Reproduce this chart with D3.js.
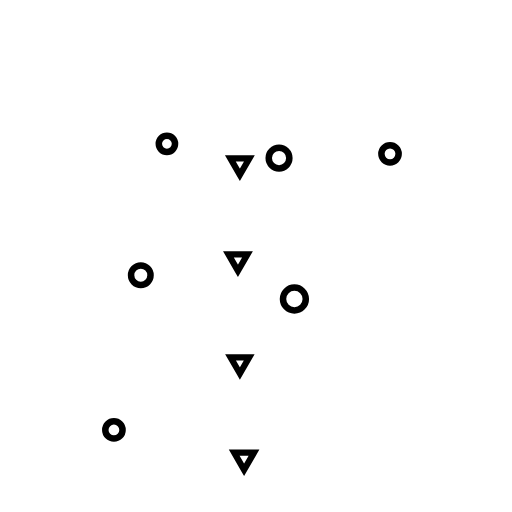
<!DOCTYPE html>
<html>
<head>
<meta charset="utf-8">
<script src="https://cdn.jsdelivr.net/npm/d3@7"></script>
<style>
html,body{margin:0;padding:0;background:#fff;}
svg{display:block;}
</style>
</head>
<body>
<script>
// Series A (circles)
const circleX = [2.68, 5.60, 8.49, 2.00, 6.00, 1.30];
const circleY = [7.92, 7.55, 7.66, 4.50, 3.88, 0.47];
const circleW = [39, 63, 44, 56, 77, 44];
// Series B (down triangles)
const triX = [4.58, 4.53, 4.58, 4.69];
const triY = [7.40, 4.90, 2.22, -0.27];
const triW = [50, 50, 48, 54];

const W = 512, H = 512;
const svg = d3.select("body").append("svg").attr("width", W).attr("height", H);

const x = d3.scaleLinear().domain([0, 10]).range([64, 448]);
const y = d3.scaleLinear().domain([0, 10]).range([448, 64]);
const rScale = d3.scaleSqrt().domain([0, 100]).range([0, 13]);
const tScale = d3.scaleSqrt().domain([0, 100]).range([0, 7.8]);

const circles = circleX.map((d, i) => ({x: d, y: circleY[i], w: circleW[i]}));
const tris = triX.map((d, i) => ({x: d, y: triY[i], w: triW[i]}));

svg.selectAll("circle.a").data(circles).enter().append("circle")
  .attr("class", "a")
  .attr("cx", d => x(d.x))
  .attr("cy", d => y(d.y))
  .attr("r", d => rScale(d.w))
  .attr("fill", "none")
  .attr("stroke", "#000")
  .attr("stroke-width", 6.5);

svg.selectAll("path.b").data(tris).enter().append("path")
  .attr("class", "b")
  .attr("d", d => {
    const k = tScale(d.w); // |y| of symbol
    const size = k * k * 3 * Math.sqrt(3);
    return d3.symbol().type(d3.symbolTriangle).size(size)();
  })
  .attr("transform", d => `translate(${x(d.x)},${y(d.y)}) rotate(180)`)
  .attr("fill", "none")
  .attr("stroke", "#000")
  .attr("stroke-width", 6.2)
  .attr("stroke-linejoin", "miter");
</script>
</body>
</html>
